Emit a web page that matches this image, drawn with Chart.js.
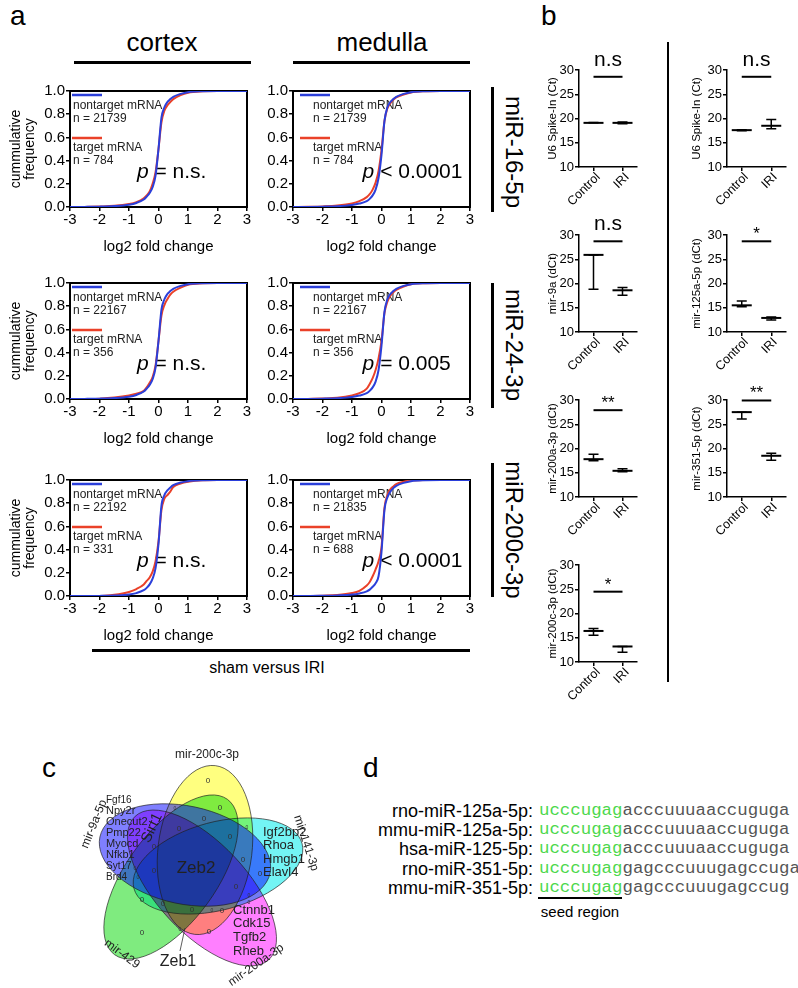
<!DOCTYPE html>
<html>
<head>
<meta charset="utf-8">
<script src="https://cdn.jsdelivr.net/npm/chart.js@4.4.1/dist/chart.umd.min.js"></script>
<style>
body{margin:0;background:#fff;width:798px;height:988px;position:relative;overflow:hidden;font-family:"Liberation Sans",Arial,sans-serif;color:#000}
canvas{position:absolute}
.t{position:absolute;white-space:nowrap;line-height:1}
.c{transform:translate(-50%,-50%)}
.v{transform:translate(-50%,-50%) rotate(90deg)}
.r45{transform-origin:100% 50%;transform:translate(-100%,-50%) rotate(-45deg);font-size:12.5px}
.bar{position:absolute;background:#000}
.seq{font-family:"Liberation Mono",monospace;font-size:17.4px;color:#555}
.seed{color:#4cd84c}
</style>
</head>
<body>

<div class="t" style="left:10px;top:2px;font-size:28px">a</div>
<div class="t" style="left:541px;top:2px;font-size:28px">b</div>
<div class="t" style="left:42px;top:754px;font-size:28px">c</div>
<div class="t" style="left:363px;top:754px;font-size:28px">d</div>

<div class="t c" style="left:162px;top:42px;font-size:26px">cortex</div>
<div class="t c" style="left:382px;top:42px;font-size:26px">medulla</div>
<div class="bar" style="left:74px;top:61px;width:177px;height:3px"></div>
<div class="bar" style="left:293px;top:61px;width:177px;height:3px"></div>

<div class="bar" style="left:491px;top:87px;width:3px;height:125px"></div>
<div class="bar" style="left:491px;top:283px;width:3px;height:125px"></div>
<div class="bar" style="left:491px;top:463px;width:3px;height:134px"></div>
<div class="t v" style="left:514px;top:152px;font-size:24px">miR-16-5p</div>
<div class="t v" style="left:514px;top:345px;font-size:24px">miR-24-3p</div>
<div class="t v" style="left:514px;top:530px;font-size:24px">miR-200c-3p</div>

<div class="bar" style="left:92px;top:649px;width:378px;height:3px"></div>
<div class="t c" style="left:267px;top:668px;font-size:16px">sham versus IRI</div>

<div class="bar" style="left:667px;top:42px;width:2px;height:640px"></div>

<div id="panelD"></div>

<script>
// ---------------- DATA ----------------

// panel a: cumulative frequency vs log2 fold change
const foldChange = [-3, -2.5, -2, -1.5, -1, -0.75, -0.5, -0.4, -0.3, -0.2, -0.1, 0, 0.1, 0.2, 0.3, 0.4, 0.5, 0.75, 1, 1.5, 2, 2.5, 3];

const cortex16Non  = [0, 0.001, 0.003, 0.008, 0.02, 0.035, 0.065, 0.09, 0.12, 0.17, 0.27, 0.5, 0.77, 0.86, 0.905, 0.93, 0.95, 0.975, 0.99, 0.998, 1, 1, 1];
const cortex16Tar  = [null, 0, 0.004, 0.01, 0.026, 0.042, 0.075, 0.1, 0.135, 0.2, 0.3, 0.5, 0.73, 0.83, 0.875, 0.905, 0.93, 0.965, 0.985, 0.997, 1, 1, 1];
const medulla16Non = [0, 0.001, 0.003, 0.007, 0.018, 0.03, 0.05, 0.07, 0.1, 0.15, 0.25, 0.45, 0.74, 0.86, 0.905, 0.93, 0.95, 0.975, 0.99, 0.998, 1, 1, 1];
const medulla16Tar = [0, 0.002, 0.005, 0.012, 0.03, 0.05, 0.085, 0.11, 0.15, 0.21, 0.31, 0.49, 0.74, 0.85, 0.895, 0.925, 0.945, 0.97, 0.988, 0.998, 1, 1, 1];
const cortex24Non  = [0, 0.001, 0.003, 0.008, 0.02, 0.035, 0.065, 0.09, 0.12, 0.17, 0.27, 0.5, 0.77, 0.86, 0.905, 0.93, 0.95, 0.975, 0.99, 0.998, 1, 1, 1];
const cortex24Tar  = [null, 0, 0.003, 0.012, 0.03, 0.045, 0.07, 0.1, 0.14, 0.19, 0.29, 0.5, 0.72, 0.81, 0.86, 0.9, 0.925, 0.96, 0.985, 0.997, 1, 1, 1];
const medulla24Non = [0, 0.001, 0.003, 0.007, 0.018, 0.03, 0.05, 0.07, 0.1, 0.15, 0.25, 0.46, 0.75, 0.86, 0.905, 0.93, 0.95, 0.975, 0.99, 0.998, 1, 1, 1];
const medulla24Tar = [null, 0, 0.004, 0.01, 0.03, 0.05, 0.09, 0.13, 0.18, 0.25, 0.35, 0.5, 0.74, 0.84, 0.89, 0.92, 0.94, 0.97, 0.99, 0.998, 1, 1, 1];
const cortex200Non  = [0, 0, 0.001, 0.004, 0.012, 0.025, 0.05, 0.07, 0.1, 0.15, 0.24, 0.45, 0.78, 0.87, 0.91, 0.935, 0.955, 0.978, 0.99, 0.998, 1, 1, 1];
const cortex200Tar  = [null, null, 0, 0.01, 0.035, 0.06, 0.1, 0.13, 0.16, 0.21, 0.3, 0.47, 0.74, 0.84, 0.87, 0.9, 0.94, 0.97, 0.985, 0.998, 1, 1, 1];
const medulla200Non = [0, 0, 0.002, 0.005, 0.012, 0.022, 0.04, 0.055, 0.08, 0.11, 0.17, 0.38, 0.74, 0.85, 0.9, 0.93, 0.95, 0.975, 0.99, 0.998, 1, 1, 1];
const medulla200Tar = [null, 0, 0.003, 0.008, 0.025, 0.045, 0.09, 0.12, 0.17, 0.23, 0.3, 0.42, 0.76, 0.87, 0.92, 0.945, 0.965, 0.985, 0.995, 1, 1, 1, 1];

const nNontarget = [21739, 21739, 22167, 22167, 22192, 21835];
const nTarget = [784, 784, 356, 356, 331, 688];
const pText = ["= n.s.", "< 0.0001", "= n.s.", "= 0.005", "= n.s.", "< 0.0001"];

// panel b: mean with error range
const groups = ["Control", "IRI"];
const u6aMean = [19.1, 19.1],  u6aLow = [19.1, 18.9],  u6aHigh = [19.2, 19.3];
const mir9aMean = [25.9, 18.6], mir9aLow = [18.8, 17.6], mir9aHigh = [25.9, 19.2];
const mir200aMean = [17.8, 15.4], mir200aLow = [17.5, 15.2], mir200aHigh = [18.8, 15.8];
const mir200cMean = [16.4, 13.2], mir200cLow = [15.5, 12.0], mir200cHigh = [16.9, 13.2];
const u6bMean = [17.6, 18.5],  u6bLow = [17.5, 17.9],  u6bHigh = [17.7, 19.8];
const mir125Mean = [15.5, 12.9], mir125Low = [15.2, 12.5], mir125High = [16.4, 13.1];
const mir351Mean = [27.5, 18.5], mir351Low = [26.1, 17.6], mir351High = [27.5, 19.0];
const dctTicks = [10, 15, 20, 25, 30];

// panel c: venn
const vennSets = ["mir-200c-3p", "mir-9a-5p", "mir-141-3p", "mir-429", "mir-200a-3p"];
const genesLeft = ["Fgf16", "Npy2r", "Onecut2", "Pmp22", "Myocd", "Nfkb1", "Syt17", "Brd4"];
const genesRight = ["Igf2bp2", "Rhoa", "Hmgb1", "Elavl4"];
const genesBottom = ["Ctnnb1", "Cdk15", "Tgfb2", "Rheb"];
const emptyCount = "0";

// panel d
const mirNames = ["rno-miR-125a-5p:", "mmu-miR-125a-5p:", "hsa-miR-125-5p:", "rno-miR-351-5p:", "mmu-miR-351-5p:"];
const seedSeq = ["ucccugag", "ucccugag", "ucccugag", "ucccugag", "ucccugag"];
const restSeq = ["acccuuuaaccuguga", "acccuuuaaccuguga", "acccuuuaaccuguga", "gagcccuuugagccuga", "gagcccuuugagccug"];


// ---------------- SETUP ----------------

const FONT = '"Liberation Sans", Arial, sans-serif';
Chart.defaults.font.family = FONT;
Chart.defaults.color = '#000';
const BLUE = '#2b3fda';
const RED = '#ea4129';

function addCanvas(left, top, w, h){
    const c = document.createElement('canvas');
    c.width = w; c.height = h;
    c.style.left = left + 'px'; c.style.top = top + 'px';
    c.style.width = w + 'px'; c.style.height = h + 'px';
    document.body.appendChild(c);
    return c;
}

function addText(cls, left, top, text){
    const d = document.createElement('div');
    d.className = 't ' + cls;
    d.style.left = left + 'px'; d.style.top = top + 'px';
    d.textContent = text;
    document.body.appendChild(d);
}

const axisGrid = {display:true, drawOnChartArea:false, drawTicks:true, tickLength:4, color:'#000', lineWidth:1.5, offset:false};
const axisBorder = {display:true, color:'#000', width:2};


// ---------------- PANEL A ----------------

const cdfDecor = {
    id:'cdfDecor',
    beforeDatasetsDraw(chart, args, o){
        const {ctx, chartArea:a} = chart;
        ctx.save();
        ctx.strokeStyle = '#000'; ctx.lineWidth = 2;
        ctx.strokeRect(a.left, a.top, a.width, a.height);

        // legend
        ctx.lineWidth = 2.5;
        ctx.strokeStyle = BLUE;
        ctx.beginPath(); ctx.moveTo(a.left + o.lineX, a.top + 4); ctx.lineTo(a.left + o.lineX + 30, a.top + 4); ctx.stroke();
        ctx.strokeStyle = RED;
        ctx.beginPath(); ctx.moveTo(a.left + o.lineX, a.top + 47); ctx.lineTo(a.left + o.lineX + 30, a.top + 47); ctx.stroke();
        ctx.fillStyle = '#222';
        ctx.font = '12px ' + FONT;
        ctx.textBaseline = 'middle';
        ctx.fillText('nontarget mRNA', a.left + o.textX, a.top + 15);
        ctx.fillText('n = ' + o.nNon, a.left + o.textX, a.top + 28);
        ctx.fillText('target mRNA', a.left + o.textX, a.top + 57);
        ctx.fillText('n = ' + o.nTar, a.left + o.textX, a.top + 70);

        // p value
        const px = chart.scales.x.getPixelForValue(o.pAt);
        const py = chart.scales.y.getPixelForValue(0.3);
        ctx.fillStyle = '#000';
        ctx.font = 'italic 21px ' + FONT;
        ctx.fillText('p', px, py);
        const w = ctx.measureText('p').width;
        ctx.font = '21px ' + FONT;
        ctx.fillText(' ' + o.p, px + w, py);
        ctx.restore();
    }
};

const nontargetCurves = [cortex16Non, medulla16Non, cortex24Non, medulla24Non, cortex200Non, medulla200Non];
const targetCurves = [cortex16Tar, medulla16Tar, cortex24Tar, medulla24Tar, cortex200Tar, medulla200Tar];
const plotTops = [89, 281, 478];

function cdfChart(i){
    const col = i % 2, row = Math.floor(i / 2);
    const yW = col === 0 ? 70 : 43;
    const left = col === 0 ? 0 : 250;
    const c = addCanvas(left, plotTops[row] - 8, yW + 177 + 8, 8 + 118 + 52);

    new Chart(c, {
        type:'line',
        data:{
            datasets:[
                {data:foldChange.map((x, k) => ({x, y:nontargetCurves[i][k]})), borderColor:BLUE},
                {data:foldChange.map((x, k) => ({x, y:targetCurves[i][k]})), borderColor:RED}
            ]
        },
        options:{
            responsive:false,
            animation:false,
            layout:{padding:{top:8, right:8, left:0, bottom:0}},
            elements:{point:{radius:0}, line:{borderWidth:2, cubicInterpolationMode:'monotone'}},
            plugins:{
                legend:{display:false},
                tooltip:{enabled:false},
                cdfDecor:{
                    nNon:nNontarget[i], nTar:nTarget[i], p:pText[i],
                    lineX: col === 0 ? 2 : 7, textX: col === 0 ? 3 : 20,
                    pAt: col === 0 ? -0.73 : -0.64
                }
            },
            scales:{
                x:{
                    type:'linear', min:-3, max:3,
                    ticks:{stepSize:1, font:{size:15}, padding:0},
                    grid:axisGrid, border:axisBorder,
                    title:{display:true, text:'log2 fold change', font:{size:15}, padding:{top:0, bottom:3}},
                    afterFit:s => { s.height = 52; }
                },
                y:{
                    min:0, max:1,
                    ticks:{stepSize:0.2, font:{size:15}, padding:1, callback:v => v.toFixed(1)},
                    grid:axisGrid, border:axisBorder,
                    title:{display:col === 0, text:['cummulative', 'frequency'], font:{size:14, lineHeight:1}, padding:{top:9}},
                    afterFit:s => { s.width = yW; }
                }
            }
        },
        plugins:[cdfDecor]
    });
}

for(let i = 0; i < 6; i++) cdfChart(i);


// ---------------- PANEL B ----------------

const dotDecor = {
    id:'dotDecor',
    afterDatasetsDraw(chart, args, o){
        const {ctx} = chart;
        const x = chart.scales.x, y = chart.scales.y;
        ctx.save();
        ctx.strokeStyle = '#000';
        ctx.lineWidth = 1.5;
        o.low.forEach((lo, i) => {
            const cx = x.getPixelForValue(i);
            const yl = y.getPixelForValue(lo), yh = y.getPixelForValue(o.high[i]);
            ctx.beginPath();
            ctx.moveTo(cx, yl); ctx.lineTo(cx, yh);
            ctx.moveTo(cx - 5, yl); ctx.lineTo(cx + 5, yl);
            ctx.moveTo(cx - 5, yh); ctx.lineTo(cx + 5, yh);
            ctx.stroke();
        });

        // significance bar
        const x0 = x.getPixelForValue(0), x1 = x.getPixelForValue(1);
        const sy = y.getPixelForValue(o.sig);
        ctx.lineWidth = 2;
        ctx.beginPath(); ctx.moveTo(x0, sy); ctx.lineTo(x1, sy); ctx.stroke();
        ctx.fillStyle = '#000';
        ctx.textAlign = 'center';
        ctx.textBaseline = 'alphabetic';
        if(o.mark === 'n.s'){
            ctx.font = '21px ' + FONT;
            ctx.fillText(o.mark, (x0 + x1) / 2, sy - 11);
        } else {
            ctx.font = '17px ' + FONT;
            ctx.fillText(o.mark, (x0 + x1) / 2, sy - 2);
        }
        ctx.restore();
    }
};

function dotChart(col, plotTop, mean, low, high, sig, mark, title){
    const left = col === 0 ? 540 : 688;
    const top = plotTop - 28;
    const plotW = col === 0 ? 64 : 63;
    const padR = col === 0 ? 6 : 8;
    const c = addCanvas(left, top, 39 + plotW + padR, 28 + 97 + 45);

    const chart = new Chart(c, {
        type:'line',
        data:{
            labels:groups,
            datasets:[{
                data:mean, showLine:false,
                pointStyle:'line', pointRadius:10, pointBorderWidth:2, pointBorderColor:'#000'
            }]
        },
        options:{
            responsive:false,
            animation:false,
            layout:{padding:{top:28, right:padR, left:0, bottom:0}},
            plugins:{legend:{display:false}, tooltip:{enabled:false}, dotDecor:{low, high, sig, mark}},
            scales:{
                x:{
                    type:'category', offset:true,
                    ticks:{display:false},
                    grid:axisGrid, border:{display:true, color:'#000', width:1.5},
                    afterFit:s => { s.height = 45; }
                },
                y:{
                    min:dctTicks[0], max:dctTicks[dctTicks.length - 1],
                    ticks:{stepSize:5, font:{size:13}, padding:1},
                    grid:axisGrid, border:{display:true, color:'#000', width:1.5},
                    title:{display:true, text:title, font:{size:11.5}, padding:{top:col === 0 ? 6 : 2}},
                    afterFit:s => { s.width = 39; }
                }
            }
        },
        plugins:[dotDecor]
    });

    // rotated category labels, placed from the chart's own x scale
    groups.forEach((g, i) => {
        addText('r45', left + chart.scales.x.getPixelForValue(i) + 4, top + chart.scales.y.bottom + 8, g);
    });
}

dotChart(0, 70, u6aMean, u6aLow, u6aHigh, 28.6, 'n.s', 'U6 Spike-In (Ct)');
dotChart(0, 235, mir9aMean, mir9aLow, mir9aHigh, 28.7, 'n.s', 'mir-9a (dCt)');
dotChart(0, 400, mir200aMean, mir200aLow, mir200aHigh, 27.9, '**', 'mir-200a-3p (dCt)');
dotChart(0, 565, mir200cMean, mir200cLow, mir200cHigh, 24.5, '*', 'mir-200c-3p (dCt)');
dotChart(1, 70, u6bMean, u6bLow, u6bHigh, 28.6, 'n.s', 'U6 Spike-In (Ct)');
dotChart(1, 235, mir125Mean, mir125Low, mir125High, 28.7, '*', 'mir-125a-5p (dCt)');
dotChart(1, 400, mir351Mean, mir351Low, mir351High, 29.9, '**', 'mir-351-5p (dCt)');


// ---------------- PANEL C ----------------

// ellipse layout, in chart units (1 unit = 1 px), centre of diagram at 0,0
const vennShapes = [
    {cx:5,   cy:-16, a:85, b:47, rot:97,  fill:'rgba(255,255,0,0.5)'},
    {cx:-15, cy:-11, a:87, b:49, rot:12,  fill:'rgba(0,0,255,0.5)'},
    {cx:18,  cy:0,   a:87, b:44, rot:-15, fill:'rgba(0,235,235,0.55)'},
    {cx:-29, cy:11,  a:96, b:45, rot:126, fill:'rgba(0,215,0,0.5)'},
    {cx:2,   cy:22,  a:98, b:45, rot:47,  fill:'rgba(255,0,255,0.5)'}
];
const drawOrder = [0, 3, 4, 2, 1];
const zeroPos = [[8,-85],[20,-58],[4,-47],[-21,-37],[30,-29],[-46,-19],[43,-6],[-46,5],[36,21],[-58,34],[-37,38],[-8,44],[22,45],[-58,67],[9,66],[60,8]];
const tinyPos = [[-25,-57],[47,-38],[-65,3],[-62,12],[49,30],[49,37],[-20,64],[12,45]];
const setLabelPos = [[7,-111,0],[-106,-42,-68],[106,-23,72],[-78,88,37],[56,99,-35]];

const vennDraw = {
    id:'vennDraw',
    beforeDraw(chart){
        const {ctx, width, height} = chart;
        ctx.save();
        ctx.fillStyle = '#fff';
        ctx.fillRect(0, 0, width, height);
        ctx.restore();
    },
    afterDraw(chart){
        const {ctx} = chart;
        const sx = chart.scales.x, sy = chart.scales.y;
        const X = v => sx.getPixelForValue(v), Y = v => sy.getPixelForValue(v);
        const u = X(1) - X(0);

        ctx.save();
        drawOrder.forEach((k, n) => {
            const e = vennShapes[k];
            // light sets blend like ink; the blue set is laid on top
            ctx.globalCompositeOperation = n < drawOrder.length - 1 ? 'multiply' : 'source-over';
            ctx.beginPath();
            ctx.ellipse(X(e.cx), Y(e.cy), e.a * u, e.b * u, e.rot * Math.PI / 180, 0, Math.PI * 2);
            ctx.fillStyle = e.fill;
            ctx.fill();
        });
        ctx.globalCompositeOperation = 'source-over';
        ctx.strokeStyle = 'rgba(30,30,30,0.85)';
        ctx.lineWidth = 0.8;
        vennShapes.forEach(e => {
            ctx.beginPath();
            ctx.ellipse(X(e.cx), Y(e.cy), e.a * u, e.b * u, e.rot * Math.PI / 180, 0, Math.PI * 2);
            ctx.stroke();
        });

        const txt = (t, x, y, size, rot, align) => {
            ctx.save();
            ctx.translate(X(x), Y(y));
            ctx.rotate((rot || 0) * Math.PI / 180);
            ctx.font = size + 'px ' + FONT;
            ctx.textAlign = align || 'center';
            ctx.textBaseline = 'middle';
            ctx.fillText(t, 0, 0);
            ctx.restore();
        };

        ctx.fillStyle = '#333';
        zeroPos.forEach(p => txt(emptyCount, p[0], p[1], 8));
        tinyPos.forEach(p => txt(emptyCount, p[0], p[1], 5));

        ctx.fillStyle = '#222';
        genesLeft.forEach((g, i) => txt(g, -94, -66 + i * 11, (i === 0 || i > 5) ? 10 : 11, 0, 'left'));
        genesRight.forEach((g, i) => txt(g, 63, -34 + i * 13.5, 13, 0, 'left'));
        genesBottom.forEach((g, i) => txt(g, 33, 44 + i * 13.7, 13, 0, 'left'));
        txt('Sirt1', -48, -38, 15, -65);
        txt('Zeb2', -4, 2, 17);
        txt('Zeb1', -22, 96, 16);
        ctx.strokeStyle = '#333';
        ctx.lineWidth = 0.8;
        ctx.beginPath(); ctx.moveTo(X(-15), Y(62)); ctx.lineTo(X(-20), Y(85)); ctx.stroke();

        vennSets.forEach((s, i) => txt(s, setLabelPos[i][0], setLabelPos[i][1], 12, setLabelPos[i][2]));
        ctx.restore();
    }
};

new Chart(addCanvas(60, 740, 290, 250), {
    type:'scatter',
    data:{datasets:[]},
    options:{
        responsive:false,
        animation:false,
        layout:{padding:0},
        plugins:{legend:{display:false}, tooltip:{enabled:false}},
        scales:{
            x:{type:'linear', min:-140, max:150, display:false},
            y:{type:'linear', min:-126, max:124, reverse:true, display:false}
        }
    },
    plugins:[vennDraw]
});


// ---------------- PANEL D ----------------

const panelD = document.getElementById('panelD');
const rowY = [811, 830, 849, 869, 888];
mirNames.forEach((name, i) => {
    panelD.innerHTML += `
    <div class="t" style="right:265px;top:${rowY[i] - 9}px;font-size:18px">${name}</div>
    <div class="t seq" style="left:539px;top:${rowY[i] - 9}px"><span class="seed">${seedSeq[i]}</span>${restSeq[i]}</div>`;
});
panelD.innerHTML += `
    <div class="bar" style="left:538px;top:897px;width:84px;height:2px"></div>
    <div class="t c" style="left:580px;top:911px;font-size:15px">seed region</div>`;
</script>
</body>
</html>
